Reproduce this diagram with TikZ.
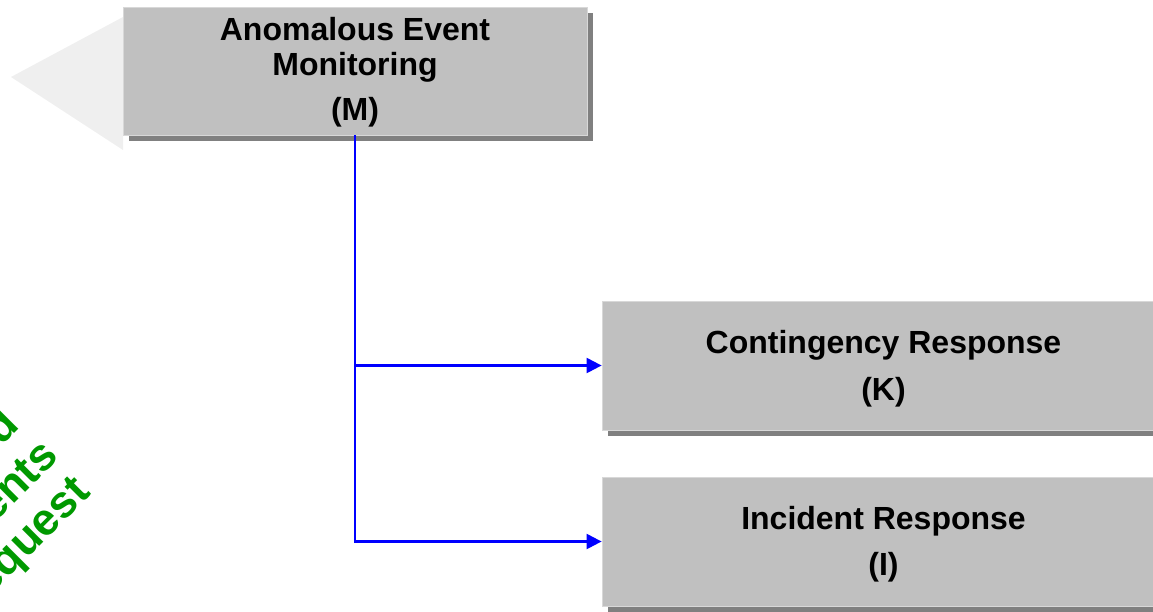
\documentclass[tikz,border=0pt]{standalone}
\usepackage{fontspec}
\setmainfont{Liberation Sans}
\usetikzlibrary{arrows.meta,shadows}

\definecolor{boxfill}{RGB}{192,192,192}
\definecolor{boxedge}{RGB}{216,216,216}
\definecolor{boxshadow}{RGB}{128,128,128}
\definecolor{arrowfill}{RGB}{239,239,239}
\definecolor{linkblue}{RGB}{0,0,255}
\definecolor{notegreen}{RGB}{0,153,0}

\tikzset{
  stage/.style={rectangle, fill=boxfill, draw=boxedge, line width=0.8pt,
    inner sep=0pt,
    drop shadow={shadow xshift=5.5pt, shadow yshift=-6pt,
      fill=boxshadow, opacity=1}},
  caption/.style={anchor=base, inner sep=0pt, text=black,
    font=\fontsize{32}{34}\selectfont\bfseries},
  note/.style={anchor=base east, inner sep=0pt, rotate=45, text=notegreen,
    font=\fontsize{45}{48}\selectfont\bfseries},
  link/.style={draw=linkblue, line width=2.2pt,
    -{Triangle[length=15pt,width=15pt]}, linkblue},
}

\begin{document}
\begin{tikzpicture}[x=1pt,y=-1pt]
  \useasboundingbox (0,0) rectangle (1153,611);
  \clip (0,0) rectangle (1153,611);

  % large pale arrow head behind the monitoring stage
  \fill[arrowfill] (11,77) -- (123,17) -- (123,150) -- cycle;

  % process stages
  \node[stage, minimum width=464pt, minimum height=128pt] (M) at (355,71) {};
  \node[stage, minimum width=563pt, minimum height=129pt] (K) at (883.5,365.5) {};
  \node[stage, minimum width=563pt, minimum height=129pt] (I) at (883.5,541.5) {};

  % stage captions
  \node[caption] (m1) at (355,40.5) {Anomalous Event};
  \node[caption] (m2) at (355,75) {Monitoring};
  \node[caption] (m3) at (355,120) {(M)};
  \node[caption] (k1) at (883.5,353) {Contingency Response};
  \node[caption] (k2) at (883.5,400) {(K)};
  \node[caption] (i1) at (883.5,529) {Incident Response};
  \node[caption] (i2) at (883.5,575) {(I)};

  % connectors from monitoring to the two response stages
  \draw[link] (M.south) |- (K.west);
  \draw[link] (M.south) |- (I.west);

  % slanted side note
  \node[note] (g1) at (21,427) {Approved};
  \node[note] (g2) at (60,458) {Requirements};
  \node[note] (g3) at (92,494) {Change Request};
\end{tikzpicture}
\end{document}
